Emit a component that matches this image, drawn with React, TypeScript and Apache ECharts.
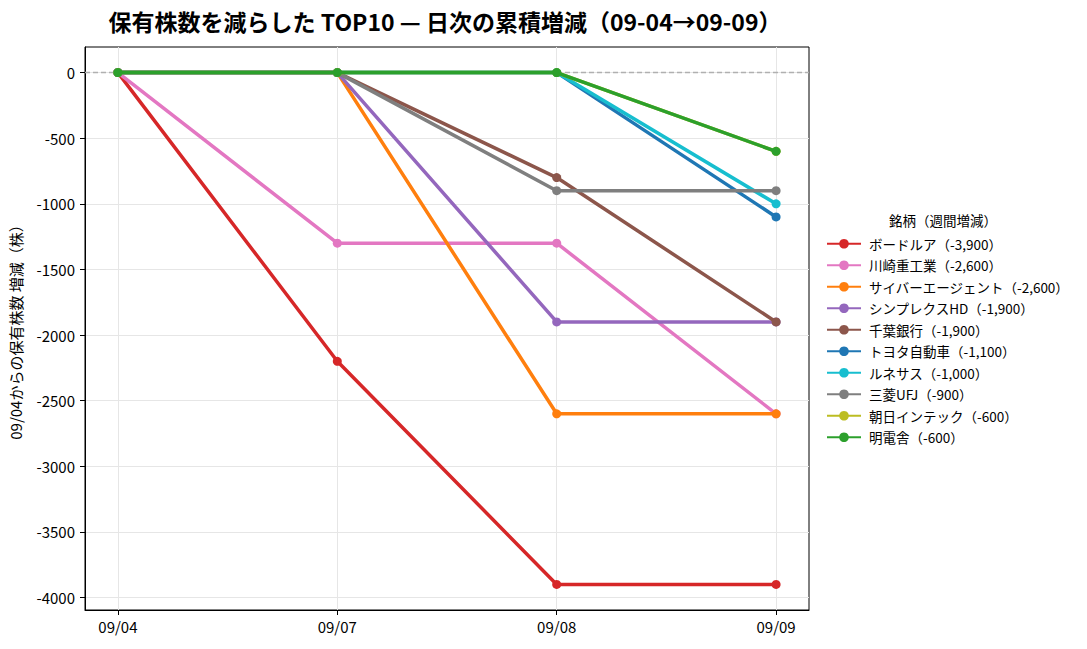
import React, { useEffect, useRef } from "react";
import * as echarts from "echarts";

const categories = ["09/04", "09/07", "09/08", "09/09"];
const seriesNames = [
  "ボードルア（-3,900）",
  "川崎重工業（-2,600）",
  "サイバーエージェント（-2,600）",
  "シンプレクスHD（-1,900）",
  "千葉銀行（-1,900）",
  "トヨタ自動車（-1,100）",
  "ルネサス（-1,000）",
  "三菱UFJ（-900）",
  "朝日インテック（-600）",
  "明電舎（-600）",
];
const seriesColors = [
  "#d62728", "#e377c2", "#ff7f0e", "#9467bd", "#8c564b",
  "#1f77b4", "#17becf", "#7f7f7f", "#bcbd22", "#2ca02c",
];
const v_boardroa = [0, -2200, -3900, -3900];
const v_kawasaki = [0, -1300, -1300, -2600];
const v_cyber = [0, 0, -2600, -2600];
const v_simplex = [0, 0, -1900, -1900];
const v_chiba = [0, 0, -800, -1900];
const v_toyota = [0, 0, 0, -1100];
const v_renesas = [0, 0, 0, -1000];
const v_mufg = [0, 0, -900, -900];
const v_asahi = [0, 0, 0, -600];
const v_meiden = [0, 0, 0, -600];
const seriesValues = [
  v_boardroa, v_kawasaki, v_cyber, v_simplex, v_chiba,
  v_toyota, v_renesas, v_mufg, v_asahi, v_meiden,
];
const yTicks = [0, -500, -1000, -1500, -2000, -2500, -3000, -3500, -4000];
const xTicks = [0, 1, 2, 3];

const FONT = "'Noto Sans CJK JP', 'Noto Sans', sans-serif";

export default function App() {
  const ref = useRef<HTMLDivElement>(null);
  useEffect(() => {
    if (!ref.current) return;
    const chart = echarts.init(ref.current, null, { renderer: "svg" });
    const series: any[] = seriesNames.map((name, i) => ({
      name,
      type: "line",
      data: seriesValues[i].map((v, j) => [j, v]),
      color: seriesColors[i],
      lineStyle: { width: 3.5, color: seriesColors[i] },
      itemStyle: { color: seriesColors[i] },
      symbol: "circle",
      symbolSize: 9,
      showSymbol: true,
      z: 3 + i,
    }));
    series.push({
      name: "__zero",
      type: "line",
      data: [],
      silent: true,
      z: 2,
      markLine: {
        silent: true,
        symbol: "none",
        label: { show: false },
        lineStyle: { color: "#b0b0b0", type: [5, 3], width: 1.3 },
        data: [{ yAxis: 0 }],
      },
    });
    chart.setOption({
      animation: false,
      textStyle: { fontFamily: FONT },
      title: {
        text: "保有株数を減らした TOP10 — 日次の累積増減（09-04→09-09）",
        left: 440,
        top: 4,
        textAlign: "center",
        textStyle: { fontFamily: FONT, fontSize: 23, fontWeight: "bold", color: "#000" },
      },
      grid: {
        left: 85,
        top: 47,
        right: 278,
        bottom: 39,
        show: true,
        borderColor: "#000",
        borderWidth: 1,
        backgroundColor: "transparent",
      },
      legend: {
        data: seriesNames,
        orient: "vertical",
        left: 826,
        top: 237,
        padding: 0,
        itemWidth: 34,
        itemHeight: 12,
        itemGap: 8,
        textStyle: { fontFamily: FONT, fontSize: 13.5, color: "#000", padding: [0, 0, 0, 3] },
      },
      graphic: [
        {
          type: "text",
          left: 889,
          top: 213,
          style: { text: "銘柄（週間増減）", fontFamily: FONT, fontSize: 13.5, fill: "#000" },
        },
      ],
      xAxis: {
        type: "value",
        min: -0.15,
        max: 3.15,
        axisLine: { show: true, onZero: false, lineStyle: { color: "#000" } },
        axisTick: { show: true, customValues: xTicks, length: 5, lineStyle: { color: "#000" } },
        axisLabel: {
          customValues: xTicks,
          formatter: (v: number) => categories[Math.round(v)] ?? "",
          fontSize: 15,
          color: "#000",
          fontFamily: FONT,
          margin: 9,
        },
        splitLine: { show: true, lineStyle: { color: "#e6e6e6", width: 1 } },
      },
      yAxis: {
        type: "value",
        min: -4095,
        max: 195,
        name: "09/04からの保有株数 増減（株）",
        nameLocation: "middle",
        nameGap: 62,
        nameTextStyle: { fontFamily: FONT, fontSize: 15, color: "#000" },
        axisLine: { show: true, onZero: false, lineStyle: { color: "#000" } },
        axisTick: { show: true, customValues: yTicks, length: 5, lineStyle: { color: "#000" } },
        axisLabel: {
          customValues: yTicks,
          formatter: (v: number) => String(v),
          fontSize: 15,
          color: "#000",
          fontFamily: FONT,
          margin: 10,
        },
        splitLine: { show: true, lineStyle: { color: "#e6e6e6", width: 1 } },
      },
      series,
    });
    return () => chart.dispose();
  }, []);
  return (
    <div
      ref={ref}
      style={{ position: "fixed", left: 0, top: 0, width: 1087, height: 649, background: "#fff" }}
    />
  );
}
